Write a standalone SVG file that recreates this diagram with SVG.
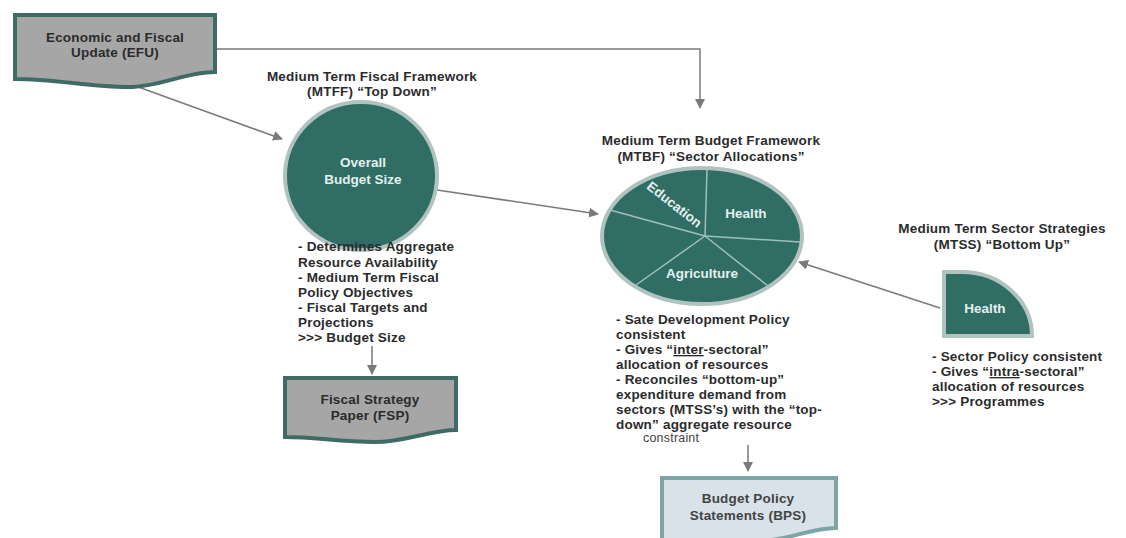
<svg xmlns="http://www.w3.org/2000/svg" width="1126" height="538" viewBox="0 0 1126 538">
<defs>
<marker id="ah" viewBox="0 0 10 10" refX="9" refY="5" markerWidth="10" markerHeight="10" markerUnits="userSpaceOnUse" orient="auto">
<path d="M0,0 L10,5 L0,10 Z" fill="#7a7a7a"/>
</marker>
<style>
.t{font-family:"Liberation Sans",Arial,sans-serif;font-weight:bold;font-size:13.5px;letter-spacing:0.2px;fill:#2b2b2b}
.c{text-anchor:middle}
.w{font-family:"Liberation Sans",Arial,sans-serif;font-weight:bold;font-size:13.5px;fill:#e4f0ee;text-anchor:middle}
.conn{stroke:#7a7a7a;stroke-width:1.5;fill:none;marker-end:url(#ah)}
.doc{fill:#a6a6a6;stroke:#3e6b66;stroke-width:4}
.teal{fill:#2f6d65;stroke:#b1c3bf;stroke-width:4}
.sl{stroke:#9cc1ba;stroke-width:1.5}
.u{text-decoration:underline}
</style>
</defs>
<rect width="1126" height="538" fill="#ffffff"/>

<g id="connectors">
<path class="conn" d="M217,49 H700 V108"/>
<path class="conn" d="M130,84 L282,139"/>
<path class="conn" d="M437,190 L598,214"/>
<path class="conn" d="M940,308 L799,262"/>
<path class="conn" d="M372,346 V374"/>
<path class="conn" d="M748,445 V471"/>
</g>

<g id="efu">
<path class="doc" d="M15,15 H215 V72 C185,72 160,87 128,87 C90,87 55,79 15,79 Z"/>
<text class="t c" x="115" y="42">Economic and Fiscal</text>
<text class="t c" x="115" y="57">Update (EFU)</text>
</g>

<g id="mtff">
<text class="t c" x="372" y="81">Medium Term Fiscal Framework</text>
<text class="t c" x="372" y="96">(MTFF) “Top Down”</text>
<ellipse class="teal" cx="361" cy="176" rx="76" ry="74"/>
<text class="w" x="363" y="167">Overall</text>
<text class="w" x="363" y="184">Budget Size</text>
<text class="t" x="298" y="251">- Determines Aggregate</text>
<text class="t" x="298" y="267">Resource Availability</text>
<text class="t" x="298" y="282">- Medium Term Fiscal</text>
<text class="t" x="298" y="297">Policy Objectives</text>
<text class="t" x="298" y="312">- Fiscal Targets and</text>
<text class="t" x="298" y="327">Projections</text>
<text class="t" x="298" y="342">&gt;&gt;&gt; Budget Size</text>
</g>

<g id="fsp">
<path class="doc" d="M285,378 H456 V430 C430,430 405,442 375,442 C340,442 315,437 285,437 Z"/>
<text class="t c" x="370" y="404">Fiscal Strategy</text>
<text class="t c" x="370" y="420">Paper (FSP)</text>
</g>

<g id="mtbf">
<text class="t c" x="711" y="145">Medium Term Budget Framework</text>
<text class="t c" x="711" y="161">(MTBF) “Sector Allocations”</text>
<ellipse class="teal" cx="702" cy="236" rx="100" ry="68"/>
<line class="sl" x1="705" y1="236" x2="707" y2="170"/>
<line class="sl" x1="705" y1="236" x2="610" y2="210"/>
<line class="sl" x1="705" y1="236" x2="636" y2="285"/>
<line class="sl" x1="705" y1="236" x2="768" y2="286"/>
<line class="sl" x1="705" y1="236" x2="800" y2="242"/>
<text class="w" transform="translate(674,205) rotate(38)" x="0" y="4">Education</text>
<text class="w" x="746" y="218">Health</text>
<text class="w" x="702" y="278">Agriculture</text>
<text class="t" x="616" y="324">- Sate Development Policy</text>
<text class="t" x="616" y="339">consistent</text>
<text class="t" x="616" y="354">- Gives “<tspan class="u">inter</tspan>-sectoral”</text>
<text class="t" x="616" y="369">allocation of resources</text>
<text class="t" x="616" y="384">- Reconciles “bottom-up”</text>
<text class="t" x="616" y="399">expenditure demand from</text>
<text class="t" x="616" y="414">sectors (MTSS’s) with the “top-</text>
<text class="t" x="616" y="429">down” aggregate resource</text>
<text class="t" x="643" y="442" style="font-weight:normal;font-size:12.5px;fill:#444">constraint</text>
</g>

<g id="bps">
<path d="M662,478 H836 V528 C810,528 790,540 760,541 L662,541 Z" fill="#d8e2e8" stroke="#7ea5a6" stroke-width="4"/>
<text class="t c" x="748" y="503" style="fill:#444">Budget Policy</text>
<text class="t c" x="748" y="520" style="fill:#444">Statements (BPS)</text>
</g>

<g id="mtss">
<text class="t c" x="1002" y="233">Medium Term Sector Strategies</text>
<text class="t c" x="1002" y="249">(MTSS) “Bottom Up”</text>
<path class="teal" d="M944,272 H962 A70 64 0 0 1 1032 336 H944 Z"/>
<text class="w" x="985" y="313">Health</text>
<text class="t" x="932" y="361">- Sector Policy consistent</text>
<text class="t" x="932" y="376">- Gives “<tspan class="u">intra</tspan>-sectoral”</text>
<text class="t" x="932" y="391">allocation of resources</text>
<text class="t" x="932" y="406">&gt;&gt;&gt; Programmes</text>
</g>
</svg>
